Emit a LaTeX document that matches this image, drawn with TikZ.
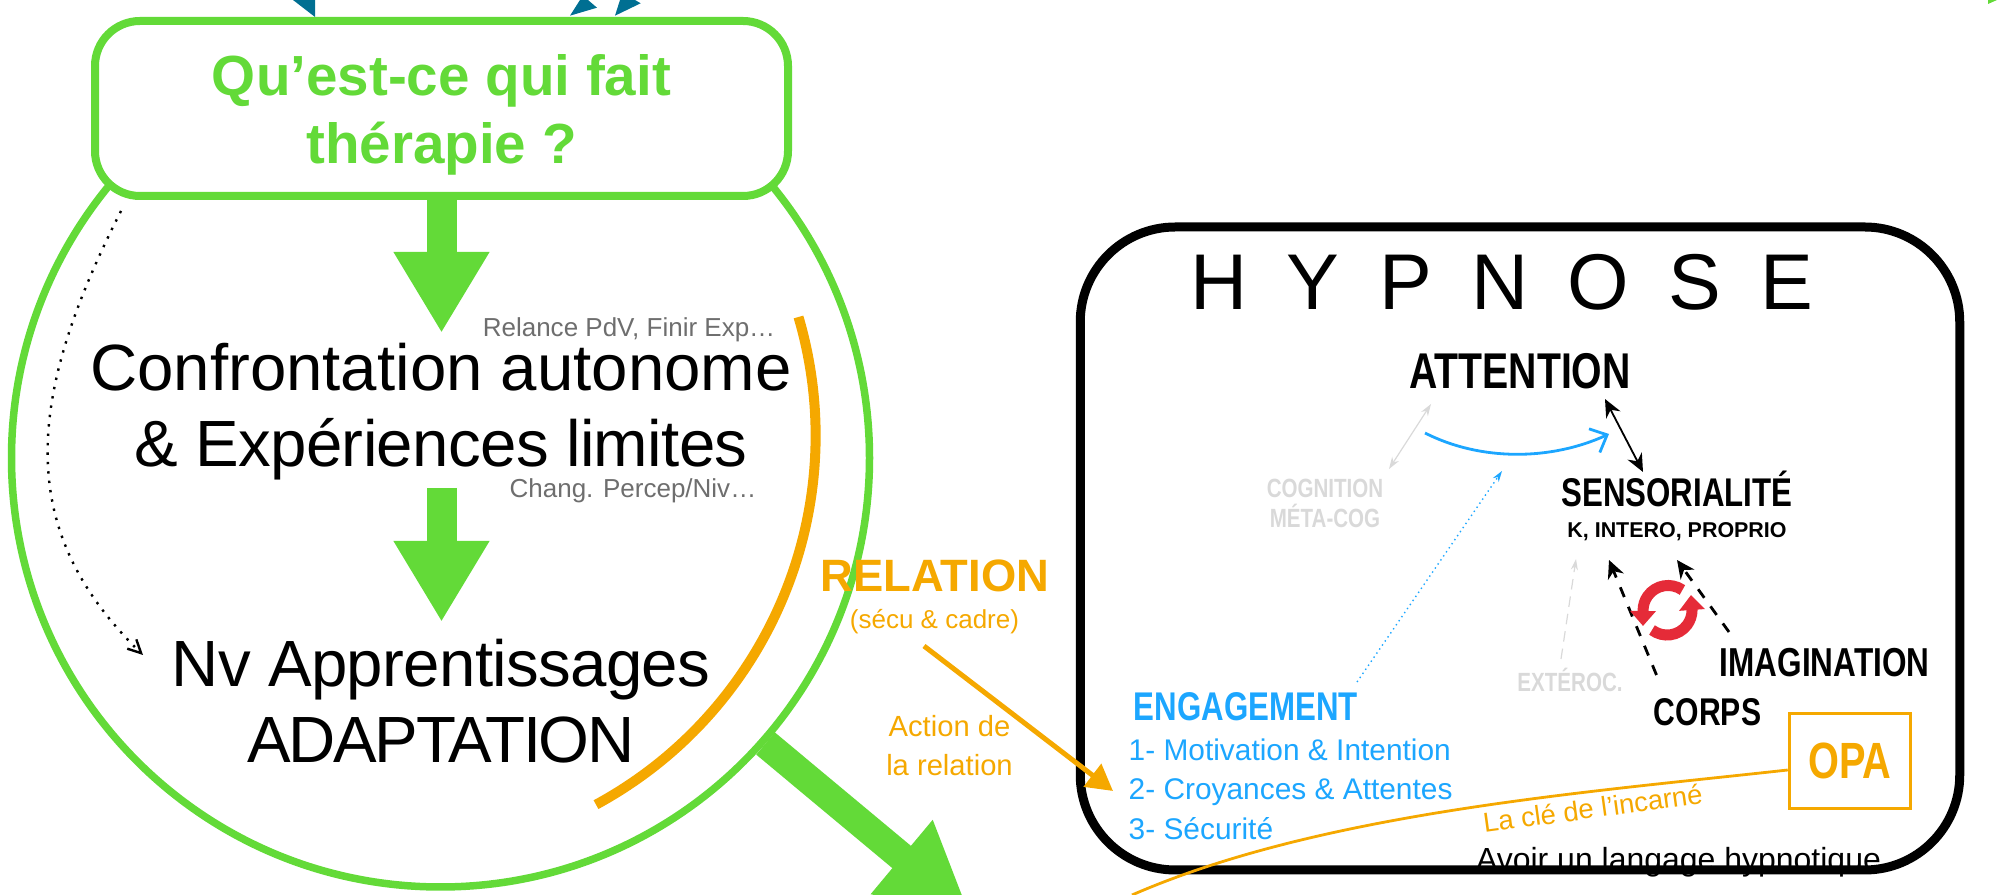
\documentclass[tikz,border=0pt]{standalone}
\usepackage{fontspec}
\setmainfont{Liberation Sans}
\newfontfamily\cnfont[FakeStretch=0.78]{Liberation Sans}
\usetikzlibrary{arrows.meta}
\definecolor{therapygreen}{HTML}{63DA38}
\definecolor{relationorange}{HTML}{F5A800}
\definecolor{engageblue}{HTML}{1CA6FF}
\definecolor{incomingteal}{HTML}{006F92}
\definecolor{fadedgrey}{HTML}{D9D9D9}
\definecolor{notegrey}{HTML}{6E6E6E}
\definecolor{cyclered}{HTML}{E52B38}
\tikzset{
    bigarrow/.style={line width=0.300000cm, therapygreen, -{Triangle[length=0.810000cm,width=0.900000cm]}},
    bigline/.style={inner sep=0pt, align=center, font=\fontsize{18.6pt}{21.9pt}\selectfont},
    sidenote/.style={inner sep=0pt, text=notegrey, font=\fontsize{7.4pt}{9pt}\selectfont},
    narrowlabel/.style={inner sep=0pt, font=\cnfont\bfseries\fontsize{#1}{#1}\selectfont},
    orangeline/.style={inner sep=0pt, text=relationorange, align=center},
    fadedlink/.style={line width=0.012000cm, fadedgrey},
    dashedlink/.style={line width=0.028000cm, dashed, -{Stealth[length=0.180000cm,width=0.170000cm]}},
    cycleblade/.style={line width=0.110000cm, cyclered, -{Triangle[length=0.150000cm,width=0.250000cm]}},
}
\begin{document}
\begin{tikzpicture}
    \clip (0,0) rectangle (19.970000,8.950000);

    % Drawing incoming arrow tips
    \fill [incomingteal] (2.930000,8.950000) -- (3.150000,8.780000) -- (3.150000,8.950000) -- cycle;%
    \fill [incomingteal] (5.700000,8.793000) -- (5.800000,8.950000) -- (5.880000,8.950000) -- (5.970000,8.873000) -- cycle;%
    \fill [incomingteal] (6.150000,8.793000) -- (6.200000,8.950000) -- (6.350000,8.950000) -- (6.407000,8.917000) -- cycle;%
    \fill [therapygreen] (19.880000,8.910000) -- (19.880000,8.950000) -- (19.970000,8.950000) -- cycle;%

    % Drawing exit arrow
    \coordinate (exitstart) at (7.655000,1.515000);%
    \coordinate (exittip) at (9.700000,-0.190000);%
    \draw [line width=0.290000cm, therapygreen, -{Triangle[length=0.890000cm,width=0.900000cm]}] (exitstart) -- (exittip);%

    % Drawing circle therapy
    \draw [line width=0.075000cm, therapygreen] (4.405000,4.370000) circle (4.290000);%

    % Marking question box
    \draw (4.415000,7.865000) node (question) [draw=therapygreen, fill=white, line width=0.080000cm, rounded corners=0.450000cm, minimum width=6.930000cm, minimum height=1.750000cm, align=center, text=therapygreen, font=\bfseries\fontsize{16.1pt}{19.3pt}\selectfont] {\rule{0pt}{15.2pt}Qu’est-ce qui fait\\thérapie ?};%

    % Marking confrontation and learning lines
    \draw (4.410000,4.280000) node (confrontation) [anchor=base, bigline] {Confrontation autonome\\{\addfontfeature{LetterSpace=-1}\& Expériences limites}};%
    \draw (4.410000,1.320000) node (learning) [anchor=base, bigline] {{\addfontfeature{LetterSpace=-1}Nv Apprentissages}\\{\addfontfeature{LetterSpace=-3.5}ADAPTATION}};%
    \draw (7.760000,5.580000) node (relance) [anchor=base east, sidenote] {Relance PdV, Finir Exp…};%
    \draw (7.570000,3.970000) node (change) [anchor=base east, sidenote] {Chang. Percep/Niv…};%

    % Drawing big arrows
    \coordinate (confrontationtip) at (4.415000,5.620000);%
    \coordinate (changestart) at (4.415000,4.070000);%
    \coordinate (learningtip) at (4.415000,2.730000);%
    \draw [bigarrow] (question.south) -- (confrontationtip);%
    \draw [bigarrow] (changestart) -- (learningtip);%

    % Drawing dotted return
    \draw [line width=0.024000cm, dotted, -{Straight Barb[length=0.130000cm,width=0.130000cm]}] ([shift={(0.300000,-0.110000)}]question.south west) .. controls (0.250000,4.950000) and (0.150000,3.650000) .. ([shift={(-2.980000,1.080000)}]learning.base);%

    % Drawing arc relation
    \draw [line width=0.100000cm, relationorange] (7.985000,5.780000) arc (16.4:-61.5:4.200000);%

    % Marking relation labels
    \draw (9.350000,3.030000) node (relation) [anchor=base, orangeline, font=\bfseries\fontsize{12.9pt}{14pt}\selectfont] {RELATION};%
    \draw (9.345000,2.660000) node (secu) [anchor=base, orangeline, font=\fontsize{7.4pt}{9pt}\selectfont] {(sécu \& cadre)};%
    \draw (9.495000,1.190000) node (action) [anchor=base, orangeline, font=\fontsize{8.3pt}{11.1pt}\selectfont] {Action de\\la relation};%

    % Marking avoir line, cut by the frame
    \begin{scope}
        \clip (10.000000,0.180000) rectangle (19.970000,1.000000);
        \draw (16.785000,0.240000) node (language) [anchor=base, inner sep=0pt, font=\fontsize{9.1pt}{11pt}\selectfont] {Avoir un langage hypnotique};%
    \end{scope}

    % Drawing frame hypnose
    \draw (15.200000,3.465000) node (frame) [draw, line width=0.090000cm, rounded corners=0.950000cm, minimum width=8.795000cm, minimum height=6.430000cm] {};%

    % Marking title and labels
    \draw (15.020000,5.850000) node (hypnose) [anchor=base, inner sep=0pt, font=\fontsize{22.5pt}{24pt}\selectfont] {\spaceskip=11.2pt\relax H Y P N O S E};%
    \draw (15.200000,5.060000) node (attention) [anchor=base, narrowlabel=14.3pt] {ATTENTION};%
    \draw (16.770000,3.880000) node (sensoriality) [anchor=base, narrowlabel=11.4pt] {SENSORIALITÉ};%
    \draw (16.770000,3.570000) node (kinds) [anchor=base, inner sep=0pt, font=\bfseries\fontsize{6.1pt}{8pt}\selectfont] {K, INTERO, PROPRIO};%
    \draw (13.250000,3.670000) node (cognition) [anchor=base, inner sep=0pt, align=center, text=fadedgrey, font=\cnfont\bfseries\fontsize{7.5pt}{8.8pt}\selectfont] {COGNITION\\MÉTA-COG};%
    \draw (15.700000,2.030000) node (exteroc) [anchor=base, narrowlabel=7.5pt, text=fadedgrey] {EXTÉROC.};%
    \draw (17.075000,1.690000) node (corps) [anchor=base, narrowlabel=11pt] {CORPS};%
    \draw (18.245000,2.180000) node (imagination) [anchor=base, narrowlabel=11.5pt] {IMAGINATION};%
    \draw (11.330000,1.740000) node (engagement) [anchor=base west, narrowlabel=11.4pt, text=engageblue] {ENGAGEMENT};%
    \draw (11.280000,0.550000) node (levers) [anchor=base west, inner sep=0pt, align=left, text=engageblue, font=\fontsize{8.5pt}{11.38pt}\selectfont] {1- Motivation \& Intention\\2- Croyances \& Attentes\\3- Sécurité};%

    % Drawing links between labels
    \draw [line width=0.018000cm, {Stealth[length=0.180000cm,width=0.160000cm]}-{Stealth[length=0.180000cm,width=0.160000cm]}] ([shift={(0.850000,-0.100000)}]attention.base) -- ([shift={(-0.340000,0.350000)}]sensoriality.base);%
    \draw [fadedlink, {Stealth[length=0.120000cm,width=0.080000cm]}-{Stealth[length=0.120000cm,width=0.080000cm]}] ([shift={(-0.890000,-0.150000)}]attention.base) -- ([shift={(0.640000,0.590000)}]cognition.base);%
    \draw [line width=0.028000cm, engageblue, -{Straight Barb[length=0.140000cm,width=0.260000cm]}] ([shift={(-0.950000,-0.440000)}]attention.base) .. controls (14.800000,4.340000) and (15.500000,4.340000) .. ([shift={(0.890000,-0.450000)}]attention.base);%
    \coordinate (attentionflow) at (15.020000,4.240000);%
    \draw [line width=0.014000cm, engageblue, densely dotted, -{Stealth[length=0.110000cm,width=0.070000cm]}] ([shift={(2.240000,0.390000)}]engagement.base west) -- (attentionflow);%
    \draw [fadedlink, densely dashed, -{Stealth[length=0.110000cm,width=0.070000cm]}] ([shift={(-0.090000,0.330000)}]exteroc.base) -- ([shift={(-1.010000,-0.210000)}]kinds.base);%
    \draw [dashedlink] ([shift={(-0.510000,0.510000)}]corps.base) -- ([shift={(-0.680000,-0.220000)}]kinds.base);%
    \draw [dashedlink] ([shift={(-0.955000,0.450000)}]imagination.base) -- ([shift={(0.000000,-0.220000)}]kinds.base);%

    % Drawing cycle icon
    \coordinate (cycleleft) at (16.430000,2.690000);%
    \coordinate (cycleright) at (16.910000,3.000000);%
    \draw [cycleblade] (16.824000,3.050000) arc (55:180:0.250000) -- (cycleleft);%
    \draw [cycleblade] (16.520000,2.650000) arc (233:360:0.250000) -- (cycleright);%

    % Marking box OPA
    \draw (18.500000,1.340000) node (opa) [draw=relationorange, line width=0.035000cm, minimum width=1.210000cm, minimum height=0.950000cm, inner sep=0pt, text=relationorange, font=\cnfont\bfseries\fontsize{14.5pt}{14.5pt}\selectfont] {OPA};%

    % Drawing key line
    \coordinate (keyend) at (11.320000,0.000000);%
    \draw [line width=0.028000cm, relationorange] ([yshift=-0.090000cm]opa.west) .. controls (15.800000,1.020000) and (13.200000,0.820000) .. (keyend);%
    \draw (15.940000,0.770000) node (key) [anchor=base, inner sep=0pt, rotate=7.8, text=relationorange, font=\fontsize{7.8pt}{9pt}\selectfont] {La clé de l’incarné};%

    % Drawing arrow relation
    \draw [line width=0.050000cm, relationorange, -{Triangle[length=0.260000cm,width=0.280000cm]}] ([shift={(-0.105000,-0.170000)}]secu.base) -- ([shift={(-0.150000,0.490000)}]levers.base west);%
\end{tikzpicture}
\end{document}
